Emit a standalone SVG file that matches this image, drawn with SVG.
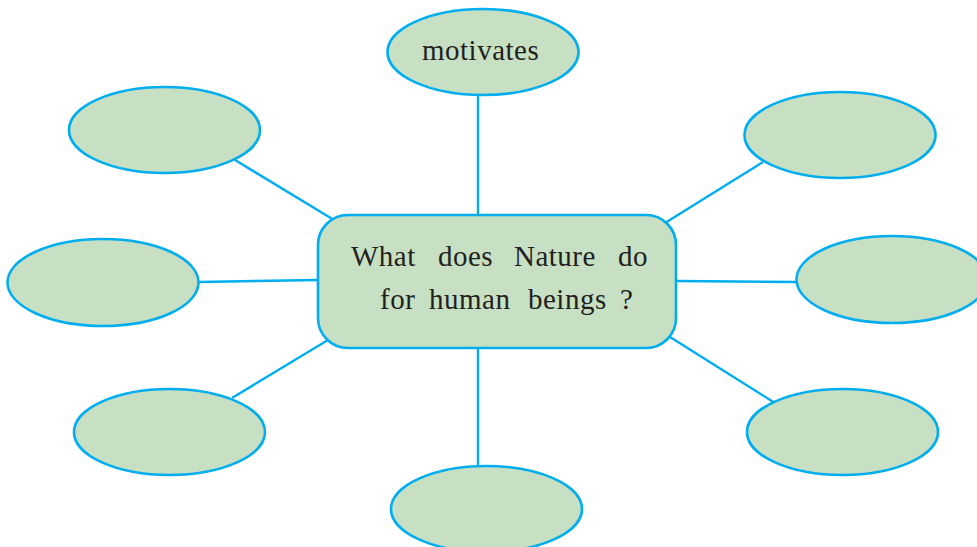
<svg xmlns="http://www.w3.org/2000/svg" width="977" height="547" viewBox="0 0 977 547">
<style>
.n{fill:#c7e0c3;stroke:#00aeef;stroke-width:2.6}
.c line{stroke:#00aeef;stroke-width:2.4}
.t{font-family:"Liberation Serif","Times New Roman",serif;font-size:29px;letter-spacing:0.5px;fill:#231f20}
</style>
<rect width="977" height="547" fill="#fff"/>
<g id="connectors" class="c">
<line x1="478" y1="94" x2="478" y2="215"/>
<line x1="478" y1="348" x2="478" y2="467"/>
<line x1="235" y1="160" x2="334" y2="220"/>
<line x1="763" y1="162" x2="665" y2="223"/>
<line x1="198" y1="282" x2="318" y2="280"/>
<line x1="676" y1="281" x2="797" y2="282"/>
<line x1="232" y1="398" x2="328" y2="340"/>
<line x1="670" y1="337" x2="775" y2="403"/>
</g>
<g id="center">
<rect class="n" x="318" y="215" width="358" height="133" rx="30"/>
<text class="t" y="266"><tspan x="351">What</tspan><tspan x="438">does</tspan><tspan x="514">Nature</tspan><tspan x="618">do</tspan></text>
<text class="t" y="309"><tspan x="380">for</tspan><tspan x="429">human</tspan><tspan x="528">beings</tspan><tspan x="620">?</tspan></text>
</g>
<g id="n-top"><ellipse class="n" cx="483" cy="52" rx="95.5" ry="43"/><text class="t" x="422" y="60">motivates</text></g>
<g id="n-topleft"><ellipse class="n" cx="164.5" cy="130" rx="95.5" ry="43"/></g>
<g id="n-topright"><ellipse class="n" cx="840" cy="135" rx="95.5" ry="43"/></g>
<g id="n-left"><ellipse class="n" cx="103" cy="282.5" rx="95.5" ry="43.5"/></g>
<g id="n-right"><ellipse class="n" cx="892" cy="279.5" rx="95.5" ry="43.5"/></g>
<g id="n-bottomleft"><ellipse class="n" cx="169.5" cy="432" rx="95.5" ry="43"/></g>
<g id="n-bottomright"><ellipse class="n" cx="842.5" cy="432" rx="95.5" ry="43"/></g>
<g id="n-bottom"><ellipse class="n" cx="486.5" cy="509" rx="95.5" ry="43"/></g>
</svg>
